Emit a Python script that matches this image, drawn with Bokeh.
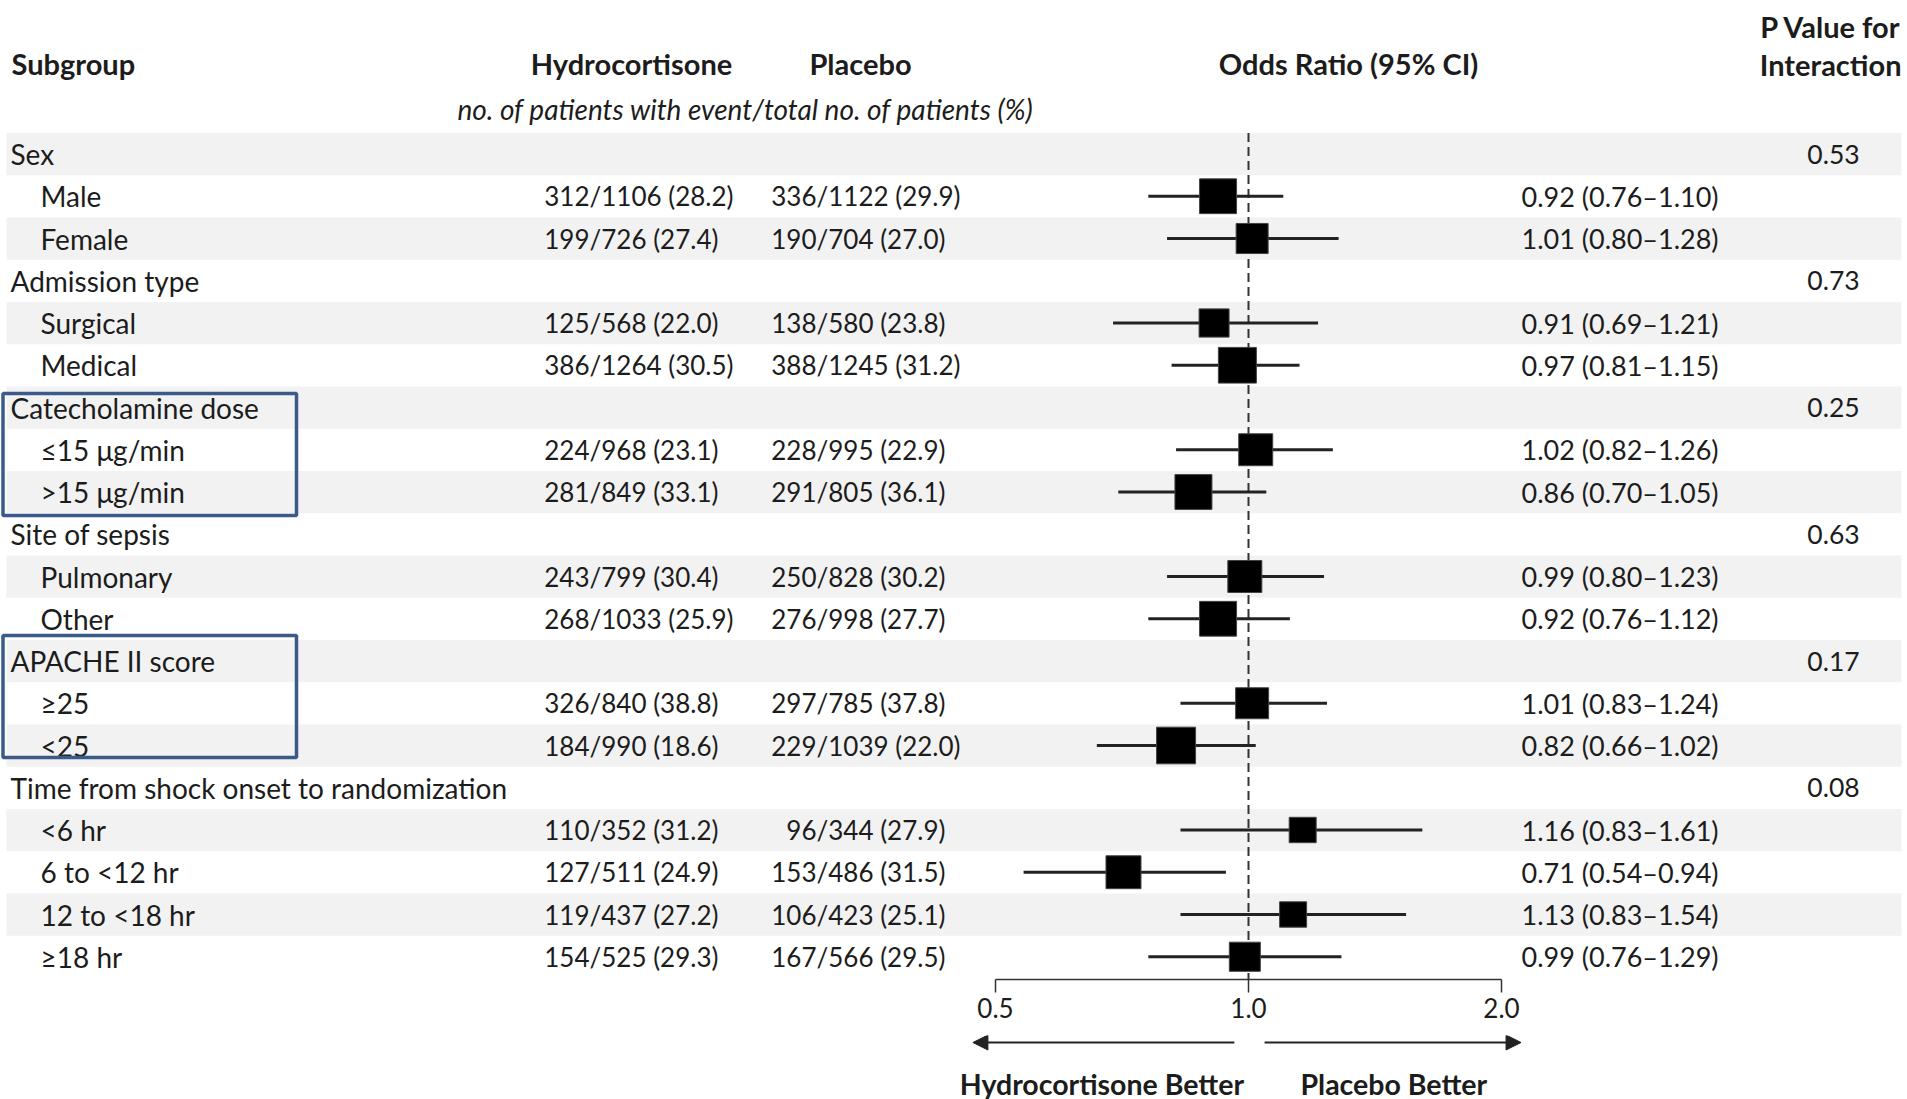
import math
from bokeh.plotting import figure
from bokeh.models import (Range1d, LogScale, LogAxis, FixedTicker, PrintfTickFormatter,
                          ColumnDataSource, Arrow, NormalHead)
from bokeh.layouts import column
from bokeh.embed import file_html
from bokeh.resources import INLINE
from bokeh.core.properties import value

# ---------------- data ----------------
groups = ["Sex", "Admission type", "Catecholamine dose", "Site of sepsis",
          "APACHE II score", "Time from shock onset to randomization"]
group_p = ["0.53", "0.73", "0.25", "0.63", "0.17", "0.08"]
subgroups = [["Male", "Female"],
             ["Surgical", "Medical"],
             ["\u226415 \u03bcg/min", ">15 \u03bcg/min"],
             ["Pulmonary", "Other"],
             ["\u226525", "<25"],
             ["<6 hr", "6 to <12 hr", "12 to <18 hr", "\u226518 hr"]]

hc_events = [312, 199, 125, 386, 224, 281, 243, 268, 326, 184, 110, 127, 119, 154]
hc_total = [1106, 726, 568, 1264, 968, 849, 799, 1033, 840, 990, 352, 511, 437, 525]
hc_pct = [28.2, 27.4, 22.0, 30.5, 23.1, 33.1, 30.4, 25.9, 38.8, 18.6, 31.2, 24.9, 27.2, 29.3]
pl_events = [336, 190, 138, 388, 228, 291, 250, 276, 297, 229, 96, 153, 106, 167]
pl_total = [1122, 704, 580, 1245, 995, 805, 828, 998, 785, 1039, 344, 486, 423, 566]
pl_pct = [29.9, 27.0, 23.8, 31.2, 22.9, 36.1, 30.2, 27.7, 37.8, 22.0, 27.9, 31.5, 25.1, 29.5]
odds_ratio = [0.92, 1.01, 0.91, 0.97, 1.02, 0.86, 0.99, 0.92, 1.01, 0.82, 1.16, 0.71, 1.13, 0.99]
ci_low = [0.76, 0.80, 0.69, 0.81, 0.82, 0.70, 0.80, 0.76, 0.83, 0.66, 0.83, 0.54, 0.83, 0.76]
ci_high = [1.10, 1.28, 1.21, 1.15, 1.26, 1.05, 1.23, 1.12, 1.24, 1.02, 1.61, 0.94, 1.54, 1.29]
box_weight = [37, 32, 30, 38, 34, 37, 34, 37, 33, 39, 27, 35, 27, 31]   # square side (weight)

axis_ticks = [0.5, 1.0, 2.0]
highlighted_groups = ["Catecholamine dose", "APACHE II score"]

# ---------------- layout constants ----------------
W = 1907
H_TOTAL = 1099
ROW0 = 153.5      # y of first row centre
ROW_H = 42.25
TEXT = "#1c1c1c"
FONT = value("Lato")
FS_LABEL = "28px"
FS_NUM = "26px"
FS_OR = "27px"
FS_P = "26.5px"
FS_HDR = "29px"
FS_IT = "28px"
FS_BOT = "28.5px"
BAND = "#f2f2f2"
BOXC = "#3a5a8a"

def row_of(page_y):
    return (page_y - ROW0) / ROW_H

AXIS_Y = 979
BORDER_B = 56
H1 = AXIS_Y + BORDER_B
H2 = H_TOTAL - H1

# log range: 0.5 -> x 995, 2.0 -> x 1501
PX_OCT = 253.0
x05 = 995
or_start = 2 ** (-1 - x05 / PX_OCT)
or_end = 2 ** (-1 + (W - x05) / PX_OCT)

# ---------------- row bookkeeping ----------------
rows_label, rows_x, rows_y = [], [], []
g_rows, sub_rows = [], []
r = 0
for g, subs in zip(groups, subgroups):
    rows_label.append(g); rows_x.append(10); rows_y.append(r); g_rows.append(r)
    r += 1
    for s in subs:
        rows_label.append(s); rows_x.append(40); rows_y.append(r); sub_rows.append(r)
        r += 1
n_rows = r

y_bottom = row_of(AXIS_Y)
p = figure(width=W, height=H1, x_range=Range1d(0, W),
           y_range=Range1d(y_bottom, row_of(0)),
           x_axis_location=None, y_axis_location=None,
           toolbar_location=None, output_backend="svg",
           min_border_left=0, min_border_right=0, min_border_top=0, min_border_bottom=BORDER_B)
p.outline_line_color = None
p.xgrid.visible = False
p.ygrid.visible = False
p.extra_x_ranges = {"or": Range1d(or_start, or_end)}
p.extra_x_scales = {"or": LogScale()}

# shaded bands
band_rows = [i for i in range(n_rows) if i % 2 == 0]
p.quad(left=6, right=1901, top=[i - 0.5 for i in band_rows], bottom=[i + 0.5 for i in band_rows],
       fill_color=BAND, line_color=None)

# reference line at OR = 1
p.segment(x0=[1.0], x1=[1.0], y0=[-0.5], y1=[y_bottom], x_range_name="or",
          line_color="#333333", line_width=2, line_dash="9 5")

# CIs and squares
src = ColumnDataSource(dict(y=sub_rows, orv=odds_ratio, lo=ci_low, hi=ci_high,
                            w=box_weight, h=[b * 0.94 for b in box_weight]))
p.segment(x0="lo", x1="hi", y0="y", y1="y", source=src, x_range_name="or",
          line_color="#222222", line_width=3.2)
p.rect(x="orv", y="y", width="w", height="h", width_units="screen", height_units="screen",
       source=src, x_range_name="or", fill_color="black", line_color="#444444", line_width=1)

# labels
p.text(x=rows_x, y=rows_y, text=rows_label, text_font=FONT, text_font_size=FS_LABEL,
       text_baseline="middle", text_align="left", text_color=TEXT)

# counts, aligned on the slash
HC_SLASH = 589
PL_SLASH = 816
p.text(x=HC_SLASH, y=sub_rows, text=[str(e) for e in hc_events], text_font=FONT,
       text_font_size=FS_NUM, text_baseline="middle", text_align="right", text_color=TEXT)
p.text(x=HC_SLASH, y=sub_rows, text=[f"/{t} ({v:.1f})" for t, v in zip(hc_total, hc_pct)],
       text_font=FONT, text_font_size=FS_NUM, text_baseline="middle", text_align="left",
       text_color=TEXT)
p.text(x=PL_SLASH, y=sub_rows, text=[str(e) for e in pl_events], text_font=FONT,
       text_font_size=FS_NUM, text_baseline="middle", text_align="right", text_color=TEXT)
p.text(x=PL_SLASH, y=sub_rows, text=[f"/{t} ({v:.1f})" for t, v in zip(pl_total, pl_pct)],
       text_font=FONT, text_font_size=FS_NUM, text_baseline="middle", text_align="left",
       text_color=TEXT)

# OR text
p.text(x=1521, y=sub_rows,
       text=[f"{o:.2f} ({a:.2f}\u2013{b:.2f})" for o, a, b in zip(odds_ratio, ci_low, ci_high)],
       text_font=FONT, text_font_size=FS_OR, text_baseline="middle", text_align="left",
       text_color=TEXT)

# P values
p.text(x=1833, y=g_rows, text=group_p, text_font=FONT, text_font_size=FS_P,
       text_baseline="middle", text_align="center", text_color=TEXT)

# headers
hdr_y = row_of(63)
p.text(x=[11], y=[hdr_y], text=["Subgroup"], text_font=FONT, text_font_size=FS_HDR,
       text_font_style="bold", text_baseline="middle", text_align="left", text_color=TEXT)
p.text(x=[631, 860, 1348], y=[hdr_y] * 3,
       text=["Hydrocortisone", "Placebo", "Odds Ratio (95% CI)"], text_font=FONT,
       text_font_size=FS_HDR, text_font_style="bold", text_baseline="middle",
       text_align="center", text_color=TEXT)
p.text(x=[1901, 1901], y=[row_of(26), row_of(64)], text=["P Value for", "Interaction"],
       text_font=FONT, text_font_size=FS_HDR, text_font_style="bold", text_baseline="middle",
       text_align="right", text_color=TEXT)
p.text(x=[745], y=[row_of(108)],
       text=["no. of patients with event/total no. of patients (%)"], text_font=FONT,
       text_font_size=FS_IT, text_font_style="italic", text_baseline="middle",
       text_align="center", text_color=TEXT)

# highlight boxes
box_top, box_bot = [], []
box_extent = {"Catecholamine dose": (393, 515), "APACHE II score": (635, 757)}
for g in highlighted_groups:
    t, b = box_extent[g]
    box_top.append(row_of(t)); box_bot.append(row_of(b))
p.quad(left=2.5, right=296, top=box_top, bottom=box_bot, fill_color=None,
       line_color=BOXC, line_width=3.5)

# axis
ax = LogAxis(x_range_name="or", ticker=FixedTicker(ticks=axis_ticks, minor_ticks=[]),
             formatter=PrintfTickFormatter(format="%.1f"),
             bounds=(axis_ticks[0], axis_ticks[-1]))
ax.major_tick_in = 0
ax.major_tick_out = 13
ax.minor_tick_line_color = None
ax.axis_line_width = 1.5
ax.axis_line_color = "#333333"
ax.major_tick_line_width = 1.5
ax.major_tick_line_color = "#333333"
ax.major_label_text_font = "Lato"
ax.major_label_text_font_size = "26px"
ax.major_label_text_color = TEXT
ax.major_label_standoff = 5
p.add_layout(ax, "below")

# bottom: arrows and direction labels
q = figure(width=W, height=H2, x_range=Range1d(or_start, or_end),
           y_range=Range1d(H_TOTAL, H1), x_axis_type="log",
           x_axis_location=None, y_axis_location=None, toolbar_location=None,
           output_backend="svg", min_border_left=0, min_border_right=0,
           min_border_top=0, min_border_bottom=0)
q.outline_line_color = None
q.xgrid.visible = False
q.ygrid.visible = False

arrow_y = 1042
q.add_layout(Arrow(end=NormalHead(size=15, fill_color="#222222", line_color="#222222"),
                   x_start=0.962, y_start=arrow_y, x_end=0.47, y_end=arrow_y,
                   line_width=2, line_color="#222222"))
q.add_layout(Arrow(end=NormalHead(size=15, fill_color="#222222", line_color="#222222"),
                   x_start=1.045, y_start=arrow_y, x_end=2.11, y_end=arrow_y,
                   line_width=2, line_color="#222222"))
q.text(x=[0.988], y=[1083], text=["Hydrocortisone Better"], text_font=FONT,
       text_font_size=FS_BOT, text_font_style="bold", text_baseline="middle",
       text_align="right", text_color=TEXT)
q.text(x=[1.153], y=[1083], text=["Placebo Better"], text_font=FONT, text_font_size=FS_BOT,
       text_font_style="bold", text_baseline="middle", text_align="left", text_color=TEXT)

layout = column(p, q, spacing=0)
open("out.html", "w").write(file_html(layout, INLINE))
